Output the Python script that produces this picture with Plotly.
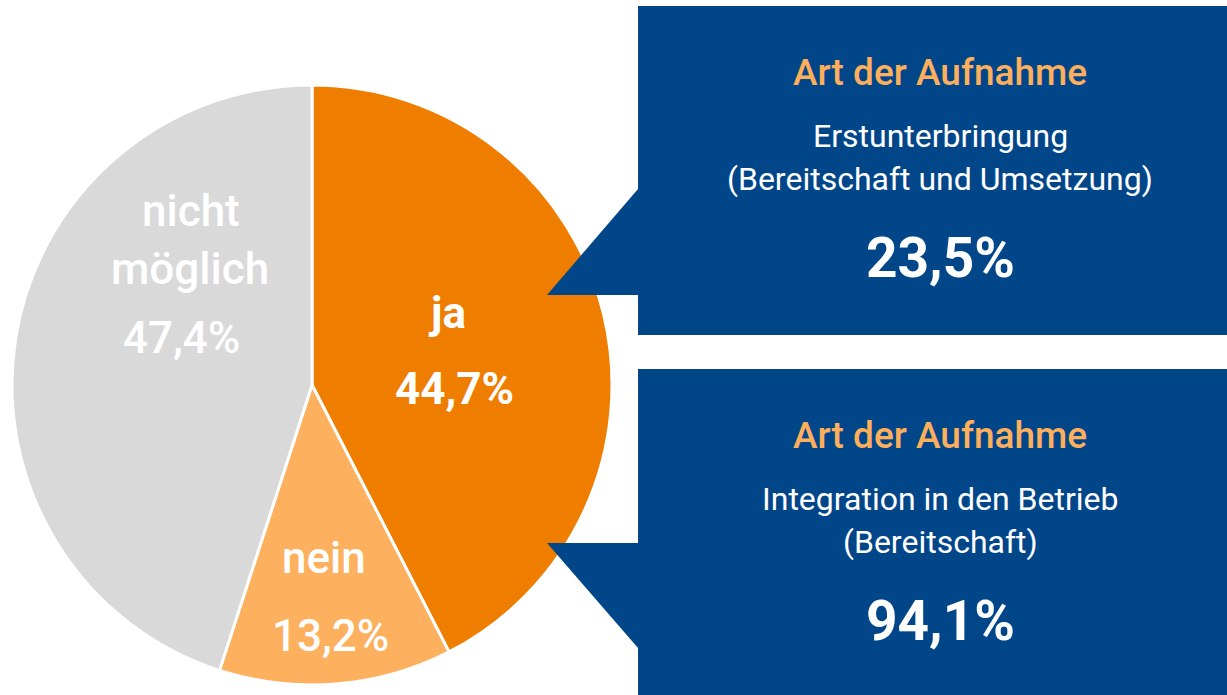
import plotly.graph_objects as go

# ---------------- data ----------------
categories = ["ja", "nein", "nicht möglich"]
values = [44.7, 13.2, 47.4]
slice_colors = ["#EF7D00", "#FDB05D", "#D9D9D9"]

box_titles = ["Art der Aufnahme", "Art der Aufnahme"]
box_lines = [["Erstunterbringung", "(Bereitschaft und Umsetzung)"],
             ["Integration in den Betrieb", "(Bereitschaft)"]]
box_values = [23.5, 94.1]

# ---------------- helpers ----------------
W, H = 1227, 695
FONT = "Roboto, Arial, sans-serif"
BLUE = "#02468A"
TITLE_ORANGE = "#FDAF5C"


def X(px):
    return px / W


def Y(py):
    return 1 - py / H


def pct(v):
    return f"{v:.1f}".replace(".", ",") + "%"


fig = go.Figure()

# pie: centre (312, 385), radius 300 px
fig.add_trace(go.Pie(
    labels=categories,
    values=values,
    sort=False,
    direction="clockwise",
    rotation=0,
    marker=dict(colors=slice_colors, line=dict(color="white", width=3)),
    textinfo="none",
    hovertemplate="%{label}: %{value}%<extra></extra>",
    domain=dict(x=[X(12), X(612)], y=[Y(685), Y(85)]),
    showlegend=False,
))

annotations = []


def add_text(text, cx, baseline, size, color="white", weight="normal"):
    annotations.append(dict(
        text=text, x=X(cx), y=Y(baseline - 0.34 * size),
        xref="paper", yref="paper", xanchor="center", yanchor="middle",
        showarrow=False,
        font=dict(family=FONT, size=size, color=color, weight=weight),
    ))


# pie labels
PS = 44
# ja
add_text(categories[0], 447, 328, PS, weight="bold")
add_text(pct(values[0]), 454, 404, PS, weight="bold")
# nein
add_text(categories[1], 324, 573, PS, weight=500)
add_text(pct(values[1]), 330, 651, PS, weight=500)
# nicht möglich
w1, w2 = categories[2].split(" ")
add_text(w1, 191, 226, PS, weight=500)
add_text(w2, 190, 284, PS, weight=500)
add_text(pct(values[2]), 181, 353, PS, weight=500)

# callout boxes
shapes = []
box_tops = [6, 369]
box_bottoms = [335, H + 10]
for i in range(2):
    shapes.append(dict(type="rect", xref="paper", yref="paper",
                       x0=X(638), x1=X(W + 10), y0=Y(box_bottoms[i]), y1=Y(box_tops[i]),
                       fillcolor=BLUE, line=dict(width=0), layer="above"))

# pointer triangles
tri1 = f"M {X(638)},{Y(189)} L {X(547)},{Y(295)} L {X(638)},{Y(295)} Z"
tri2 = f"M {X(547)},{Y(543)} L {X(638)},{Y(543)} L {X(638)},{Y(648)} Z"
for p in (tri1, tri2):
    shapes.append(dict(type="path", xref="paper", yref="paper", path=p,
                       fillcolor=BLUE, line=dict(width=0), layer="above"))

for i in range(2):
    off = box_tops[i] - box_tops[0]
    add_text(box_titles[i], 940, 85 + off, 37, color=TITLE_ORANGE, weight=500)
    add_text(box_lines[i][0], 940, 147 + off, 32)
    add_text(box_lines[i][1], 940, 190 + off, 32)
    add_text(pct(box_values[i]), 940, 277 + off, 55, weight="bold")

fig.update_layout(
    width=W, height=H,
    margin=dict(l=0, r=0, t=0, b=0),
    paper_bgcolor="white",
    plot_bgcolor="white",
    shapes=shapes,
    annotations=annotations,
    showlegend=False,
)

fig.write_html(
    "out.html",
    config={"displayModeBar": False},
    post_script="document.body.style.margin='0';document.body.style.overflow='hidden';",
)
